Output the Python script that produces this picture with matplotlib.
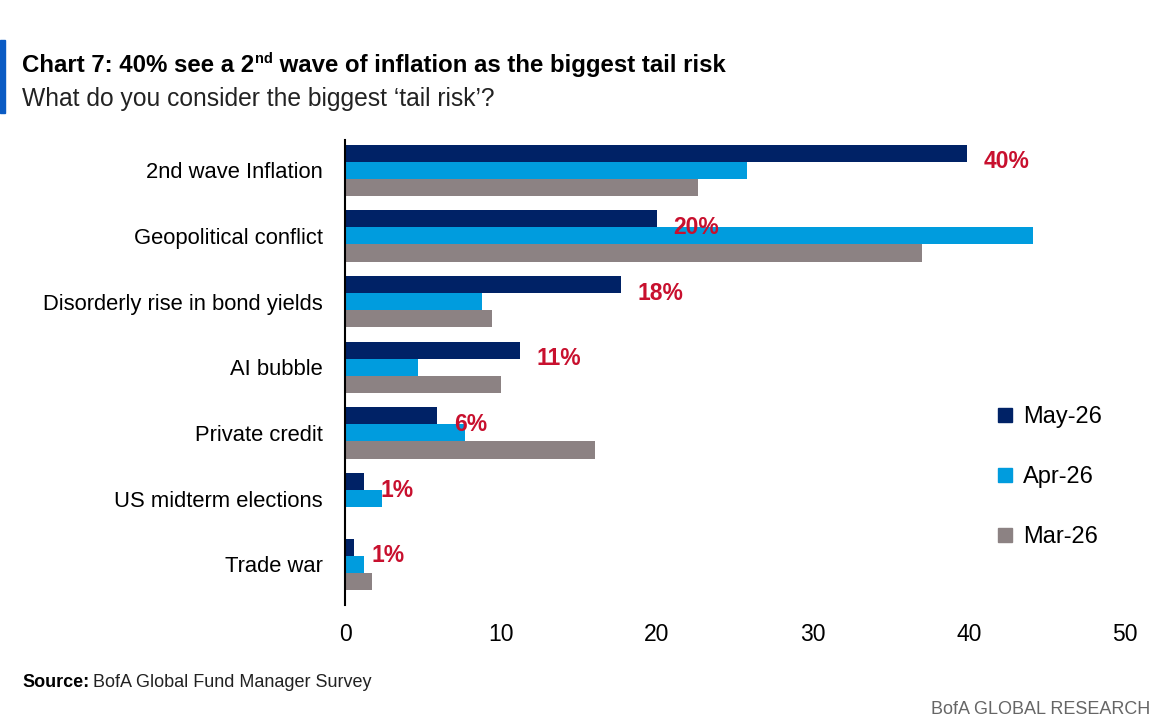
import matplotlib
matplotlib.use("Agg")
import matplotlib.pyplot as plt
from matplotlib.patches import Rectangle
from matplotlib.lines import Line2D
import numpy as np

categories = ["2nd wave Inflation", "Geopolitical conflict", "Disorderly rise in bond yields",
              "AI bubble", "Private credit", "US midterm elections", "Trade war"]
series_names = ["May-26", "Apr-26", "Mar-26"]
may = [39.9, 20.0, 17.7, 11.2, 5.9, 1.2, 0.6]
apr = [25.8, 44.1, 8.8, 4.7, 7.7, 2.4, 1.2]
mar = [22.6, 37.0, 9.4, 10.0, 16.0, 0.0, 1.7]
labels = ["40%", "20%", "18%", "11%", "6%", "1%", "1%"]
xticks = [0, 10, 20, 30, 40, 50]

colors = ["#002266", "#009CDE", "#8C8283"]
red = "#C8102E"
FAM = ["Liberation Sans", "DejaVu Sans"]

fig = plt.figure(figsize=(11.73, 7.19), dpi=100)
ax = fig.add_axes([345/1173, 1-605/719, 780/1173, 465/719])

y = np.arange(len(categories))
h = 0.26
for i, (vals, c) in enumerate(zip([may, apr, mar], colors)):
    ax.barh(y + (i-1)*h, vals, height=h, color=c, label=series_names[i], zorder=2)

for yi, v, lab in zip(y, may, labels):
    ax.annotate(lab, xy=(v, yi - h + 0.13), xytext=(12, 0), textcoords="offset points",
                ha="left", va="center", color=red, fontsize=16.5, fontweight="bold", family=FAM)

ax.set_xlim(0, 50)
ax.set_ylim(6.62, -0.46)
ax.set_xticks(xticks)
ax.set_xticklabels([str(t) for t in xticks], fontsize=16.5, family=FAM)
ax.set_yticks(y)
ax.set_yticklabels(categories, fontsize=15.8, family=FAM)
ax.tick_params(axis="both", length=0)
ax.tick_params(axis="x", pad=13)
ax.tick_params(axis="y", pad=16)
for s in ["top", "right", "bottom"]:
    ax.spines[s].set_visible(False)
ax.spines["left"].set_color("black")
ax.spines["left"].set_linewidth(1.5)

handles = [Line2D([0], [0], marker="s", linestyle="none", markersize=10,
                  markerfacecolor=c, markeredgecolor=c) for c in colors]
leg = fig.legend(handles, series_names, loc="center left", bbox_to_anchor=(975/1173, 1-477/719),
                 frameon=False, handlelength=0.7, handletextpad=0.45,
                 labelspacing=1.6, prop={"family": FAM, "size": 17})

# accent bar
fig.patches.append(Rectangle((0, 1-113/719), 5/1173, 73/719, transform=fig.transFigure,
                             color="#0A5BC4", zorder=5))

# title in pieces for superscript
renderer = fig.canvas.get_renderer()
ty = 1-72/719
t1 = fig.text(22/1173, ty, "Chart 7: 40% see a 2", fontsize=17.3, fontweight="bold",
              family=FAM, va="baseline", ha="left")
bb = t1.get_window_extent(renderer)
t2 = fig.text(bb.x1/1173 + 0.001, ty + 9/719, "nd", fontsize=10.5, fontweight="bold",
              family=FAM, va="baseline", ha="left")
bb2 = t2.get_window_extent(renderer)
fig.text(bb2.x1/1173, ty, " wave of inflation as the biggest tail risk", fontsize=17.3,
         fontweight="bold", family=FAM, va="baseline", ha="left")
fig.text(22/1173, 1-106/719, "What do you consider the biggest \u2018tail risk\u2019?", fontsize=17.7,
         family=FAM, va="baseline", ha="left", color="#222222")

s1 = fig.text(22/1173, 1-687/719, "Source:", fontsize=13, fontweight="bold", family=FAM,
              va="baseline", ha="left")
bb3 = s1.get_window_extent(renderer)
fig.text(bb3.x1/1173 + 0.003, 1-687/719, "BofA Global Fund Manager Survey", fontsize=13,
         family=FAM, va="baseline", ha="left", color="#222222")
fig.text(1150/1173, 1-714/719, "BofA GLOBAL RESEARCH", fontsize=13, family=FAM,
         va="baseline", ha="right", color="#666666")

fig.savefig("out.png", dpi=100)
